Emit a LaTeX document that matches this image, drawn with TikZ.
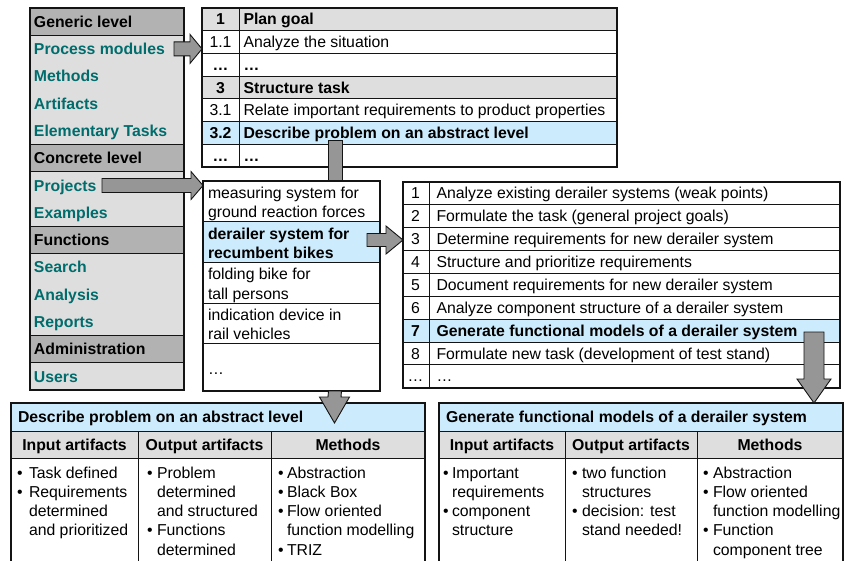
\documentclass[tikz,border=0pt]{standalone}
\usepackage{fontspec}
\setmainfont{Liberation Sans}

\definecolor{panelfill}{RGB}{222,222,222}
\definecolor{panelhead}{RGB}{178,178,178}
\definecolor{rowgray}{RGB}{222,222,222}
\definecolor{hilite}{RGB}{204,235,252}
\definecolor{linkteal}{RGB}{0,108,108}
\definecolor{arrowfill}{RGB}{150,150,150}
\definecolor{framecol}{RGB}{20,20,20}

\newcommand\fsz{\fontsize{15.8}{19.5}\selectfont}

\tikzset{
  txt/.style={font=\fsz, inner sep=0pt, outer sep=0pt},
  cellbox/.style={draw=framecol, line width=0.9pt, inner sep=0pt, outer sep=0pt, anchor=north west},
  frame/.style={draw=framecol, line width=1.6pt},
  blockarrow/.style={draw=framecol, line width=0.9pt, fill=arrowfill, line join=miter},
}

% right-pointing block arrow: start, tip, half shaft, half head, head length
\newcommand\rightblock[5]{%
  \path[blockarrow] ([yshift=#3]#1) -- ([xshift=-#5,yshift=#3]#2) -- ([xshift=-#5,yshift=#4]#2) -- (#2)
    -- ([xshift=-#5,yshift=-#4]#2) -- ([xshift=-#5,yshift=-#3]#2) -- ([yshift=-#3]#1) -- cycle;}
% downward block arrow: start, tip, half shaft, half head, head length
\newcommand\downblock[5]{%
  \path[blockarrow] ([xshift=-#3]#1) -- ([xshift=-#3,yshift=#5]#2) -- ([xshift=-#4,yshift=#5]#2) -- (#2)
    -- ([xshift=#4,yshift=#5]#2) -- ([xshift=#3,yshift=#5]#2) -- ([xshift=#3]#1) -- cycle;}

\begin{document}
\begin{tikzpicture}[x=1pt,y=-1pt]
\path[use as bounding box] (0,0) rectangle (846,560);
\clip (0,0) rectangle (846,560);

% ---------- navigation panel ----------
\node[cellbox, draw=none, fill=panelfill, minimum width=154pt, minimum height=382.2pt] (panel) at (30,8) {};
\foreach \i/\lab in {0/Generic level,5/Concrete level,8/Functions,12/Administration}{
  \node[cellbox, fill=panelhead, minimum width=154pt, minimum height=27.3pt] (lh\i) at ({30},{8+27.3*\i}) {};
  \node[txt, font=\fsz\bfseries, anchor=base west] (lt\i) at ({34},{27.25+27.3*\i}) {\lab};
}
\foreach \i/\lab in {1/Process modules,2/Methods,3/Artifacts,4/Elementary Tasks,6/Projects,7/Examples,9/Search,10/Analysis,11/Reports,13/Users}
  \node[txt, font=\fsz\bfseries, text=linkteal, anchor=base west] (lt\i) at ({34},{27.25+27.3*\i}) {\lab};
\draw[frame] (panel.north west) rectangle (panel.south east);

% ---------- process module steps ----------
\foreach \i/\fc/\fn/\num/\txt in {
  0/rowgray/\bfseries/1/Plan goal,
  1/white/\mdseries/1.1/Analyze the situation,
  2/white/\bfseries/…/…,
  3/rowgray/\bfseries/3/Structure task,
  4/white/\mdseries/3.1/Relate important requirements to product properties,
  5/hilite/\bfseries/3.2/Describe problem on an abstract level,
  6/white/\bfseries/…/…}{
  \node[cellbox, fill=\fc, minimum width=415pt, minimum height=22.7pt] (pm\i) at ({202},{8+22.7*\i}) {};
  \node[txt, font=\fsz\fn, anchor=base] (pmn\i) at ({220.5},{24.95+22.7*\i}) {\num};
  \node[txt, font=\fsz\fn, anchor=base west] (pmt\i) at ({243.5},{24.95+22.7*\i}) {\txt};
}
\draw[draw=framecol, line width=0.9pt] ([xshift=37pt]pm0.north west) -- ([xshift=37pt]pm6.south west);
\draw[frame] (pm0.north west) rectangle (pm6.south east);

% shaft from step 3.2 down to the project list
\coordinate (a0s) at (335,140);
\coordinate (a0t) at (335,181);
\path[blockarrow] ([xshift=-7pt]a0s) rectangle ([xshift=7pt]a0t);

% ---------- project list ----------
\foreach \i/\fc/\fn/\la/\lb in {
  0/white/\mdseries/measuring system for/ground reaction forces,
  1/hilite/\bfseries/derailer system for/recumbent bikes,
  2/white/\mdseries/folding bike for/tall persons,
  3/white/\mdseries/indication device in/rail vehicles}{
  \node[cellbox, fill=\fc, minimum width=177pt, minimum height=40.7pt] (pj\i) at ({203},{181+40.7*\i}) {};
  \node[txt, font=\fsz\fn, anchor=base west] (pja\i) at ({208},{198.3+40.7*\i}) {\la};
  \node[txt, font=\fsz\fn, anchor=base west] (pjb\i) at ({208},{217.7+40.7*\i}) {\lb};
}
\node[cellbox, fill=white, minimum width=177pt, minimum height=47.2pt] (pj4) at (203,343.8) {};
\node[txt, anchor=base west] (pja4) at (208,374) {…};
\draw[frame] (pj0.north west) rectangle (pj4.south east);

% ---------- project steps ----------
\foreach \i/\fc/\fn/\num/\txt in {
  0/white/\mdseries/1/Analyze existing derailer systems (weak points),
  1/white/\mdseries/2/Formulate the task (general project goals),
  2/white/\mdseries/3/Determine requirements for new derailer system,
  3/white/\mdseries/4/Structure and prioritize requirements,
  4/white/\mdseries/5/Document requirements for new derailer system,
  5/white/\mdseries/6/Analyze component structure of a derailer system,
  6/hilite/\bfseries/7/Generate functional models of a derailer system,
  7/white/\mdseries/8/Formulate new task (development of test stand),
  8/white/\mdseries/…/…}{
  \node[cellbox, fill=\fc, minimum width=437pt, minimum height=22.9pt] (rl\i) at ({403},{181.7+22.9*\i}) {};
  \node[txt, font=\fsz\fn, anchor=base] (rln\i) at ({415.5},{198.75+22.9*\i}) {\num};
  \node[txt, font=\fsz\fn, anchor=base west] (rlt\i) at ({436.5},{198.75+22.9*\i}) {\txt};
}
\draw[draw=framecol, line width=0.9pt] ([xshift=26pt]rl0.north west) -- ([xshift=26pt]rl8.south west);
\draw[frame] (rl0.north west) rectangle (rl8.south east);

% ---------- horizontal block arrows ----------
\coordinate (a1s) at (174,48.9);
\coordinate (a1t) at (pm0.west |- a1s);
\rightblock{a1s}{a1t}{7pt}{14.5pt}{12pt}
\coordinate (a2s) at (102,185.5);
\coordinate (a2t) at (pj0.west |- a2s);
\rightblock{a2s}{a2t}{7pt}{14pt}{12pt}
\coordinate (a3s) at (367,240);
\coordinate (a3t) at (rl0.west |- a3s);
\rightblock{a3s}{a3t}{6.5pt}{14pt}{17pt}

% ---------- elementary task sheet: abstract problem ----------
\node[cellbox, fill=hilite, minimum width=414pt, minimum height=28pt] (bl0) at (11,403) {};
\node[txt, font=\fsz\bfseries, anchor=base west] (blh) at (18,422.6) {Describe problem on an abstract level};
\node[cellbox, fill=rowgray, minimum width=127pt, minimum height=27pt] (blc1) at (11,431) {};
\node[cellbox, fill=rowgray, minimum width=133pt, minimum height=27pt] (blc2) at (138,431) {};
\node[cellbox, fill=rowgray, minimum width=154pt, minimum height=27pt] (blc3) at (271,431) {};
\node[cellbox, fill=white, minimum width=127pt, minimum height=130pt] (blb1) at (11,458) {};
\node[cellbox, fill=white, minimum width=133pt, minimum height=130pt] (blb2) at (138,458) {};
\node[cellbox, fill=white, minimum width=154pt, minimum height=130pt] (blb3) at (271,458) {};
\node[txt, font=\fsz\bfseries, anchor=base] (blt1) at ([yshift=-5.6pt]blc1.center) {Input artifacts};
\node[txt, font=\fsz\bfseries, anchor=base] (blt2) at ([yshift=-5.6pt]blc2.center) {Output artifacts};
\node[txt, font=\fsz\bfseries, anchor=base] (blt3) at ([yshift=-5.6pt]blc3.center) {Methods};
\foreach \x/\k in {17/0,17/1,147/0,147/3,278/0,278/1,278/2,278/4}
  \node[txt, anchor=base west] (blbul-\x-\k) at ({\x},{478.4+19.15*\k}) {•};
\foreach \x/\k/\t in {
  29/0/Task defined, 29/1/Requirements, 29/2/determined, 29/3/and prioritized,
  157/0/Problem, 157/1/determined, 157/2/and structured, 157/3/Functions, 157/4/determined,
  287/0/Abstraction, 287/1/Black Box, 287/2/Flow oriented, 287/3/function modelling, 287/4/TRIZ}
  \node[txt, anchor=base west] (blx-\x-\k) at ({\x},{478.4+19.15*\k}) {\t};
\draw[frame] (bl0.north west) rectangle (blb3.south east);

% ---------- elementary task sheet: functional models ----------
\node[cellbox, fill=hilite, minimum width=404pt, minimum height=28pt] (br0) at (439,403) {};
\node[txt, font=\fsz\bfseries, anchor=base west] (brh) at (446,422.6) {Generate functional models of a derailer system};
\node[cellbox, fill=rowgray, minimum width=126pt, minimum height=27pt] (brc1) at (439,431) {};
\node[cellbox, fill=rowgray, minimum width=132pt, minimum height=27pt] (brc2) at (565,431) {};
\node[cellbox, fill=rowgray, minimum width=146pt, minimum height=27pt] (brc3) at (697,431) {};
\node[cellbox, fill=white, minimum width=126pt, minimum height=130pt] (brb1) at (439,458) {};
\node[cellbox, fill=white, minimum width=132pt, minimum height=130pt] (brb2) at (565,458) {};
\node[cellbox, fill=white, minimum width=146pt, minimum height=130pt] (brb3) at (697,458) {};
\node[txt, font=\fsz\bfseries, anchor=base] (brt1) at ([yshift=-5.6pt]brc1.center) {Input artifacts};
\node[txt, font=\fsz\bfseries, anchor=base] (brt2) at ([yshift=-5.6pt]brc2.center) {Output artifacts};
\node[txt, font=\fsz\bfseries, anchor=base] (brt3) at ([yshift=-5.6pt]brc3.center) {Methods};
\foreach \x/\k in {443/0,443/2,572/0,572/2,703/0,703/1,703/3}
  \node[txt, anchor=base west] (brbul-\x-\k) at ({\x},{478.4+19.15*\k}) {•};
\foreach \x/\k/\t in {
  452/0/Important, 452/1/requirements, 452/2/component, 452/3/structure,
  582/0/two function, 582/1/structures, 582/2/decision: test, 582/3/stand needed!,
  713/0/Abstraction, 713/1/Flow oriented, 713/2/function modelling, 713/3/Function, 713/4/component tree}
  \node[txt, anchor=base west] (brx-\x-\k) at ({\x},{478.4+19.15*\k}) {\t};
\draw[frame] (br0.north west) rectangle (brb3.south east);

% ---------- downward block arrows ----------
\coordinate (a4s) at (a0s |- pj4.south);
\coordinate (a4t) at (334.5,423);
\downblock{a4s}{a4t}{6.5pt}{15pt}{26pt}
\coordinate (a5s) at (814,332);
\coordinate (a5t) at (a5s |- br0.north);
\downblock{a5s}{a5t}{10pt}{17pt}{24pt}
\end{tikzpicture}
\end{document}
